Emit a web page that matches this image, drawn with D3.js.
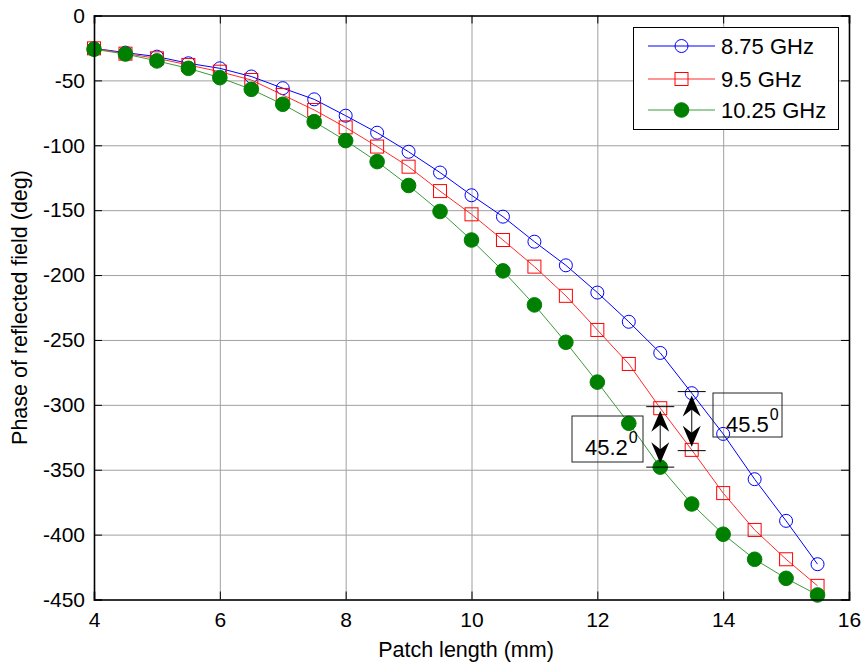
<!DOCTYPE html>
<html>
<head>
<meta charset="utf-8">
<script src="https://cdn.jsdelivr.net/npm/d3@7/dist/d3.min.js"></script>
<style>
  html, body { margin: 0; padding: 0; background: #fff; }
  svg { display: block; font-family: Arial, "Liberation Sans", Helvetica, sans-serif; }
</style>
</head>
<body>
<svg id="chart" width="865" height="665"></svg>
<script>
// ---- data ----
const patchLength = [4, 4.5, 5, 5.5, 6, 6.5, 7, 7.5, 8, 8.5, 9, 9.5, 10, 10.5, 11, 11.5, 12, 12.5, 13, 13.5, 14, 14.5, 15, 15.5];
const phase875 = [-25.3, -28.6, -31.7, -36.8, -40.7, -47, -56, -64.6, -77.2, -90.3, -105, -121, -138.5, -155, -174.3, -192.5, -213.5, -236, -260, -291, -322.4, -357.3, -389.4, -422.8];
const phase95 = [-25.3, -29.4, -33, -38.1, -43.3, -49.7, -61.2, -72.8, -86.2, -101, -116.5, -135.3, -153.2, -173, -193.5, -216, -242.3, -268.5, -302.6, -334.7, -368, -396.4, -419, -439.5];
const phase1025 = [-26, -29.7, -35, -40.7, -47.9, -56.9, -68.4, -81.8, -96.4, -112.6, -131, -151, -173, -196.8, -223, -251.8, -282.5, -314.2, -348, -376.4, -399.7, -419, -433.7, -446.5];
const seriesNames = ["8.75 GHz", "9.5 GHz", "10.25 GHz"];
const xTicks = [4, 6, 8, 10, 12, 14, 16];
const yTicks = [0, -50, -100, -150, -200, -250, -300, -350, -400, -450];
const xLabel = "Patch length (mm)";
const yLabel = "Phase of reflected field (deg)";
// annotations: phase differences
const diffArrows = [
  { x: 13, yTop: -301.4, yBottom: -348, label: "45.2" },
  { x: 13.5, yTop: -289.8, yBottom: -335.3, label: "45.5" }
];

// ---- layout ----
const svg = d3.select("#chart");
const L = 94, R = 849, T = 15.5, B = 599.5;
const x = d3.scaleLinear().domain([4, 16]).range([L, R]);
const y = d3.scaleLinear().domain([0, -450]).range([T, B]);
const FS = 21;

const series = [
  { name: seriesNames[0], values: phase875, line: "#0000ff", marker: "circle-open", mcolor: "#0000ff" },
  { name: seriesNames[1], values: phase95, line: "#ff2a2a", marker: "square-open", mcolor: "#ff0000" },
  { name: seriesNames[2], values: phase1025, line: "#3c9a3c", marker: "circle-filled", mcolor: "#008000" }
];

// grid
const grid = svg.append("g");
grid.append("g").attr("transform", `translate(0,${B})`)
  .call(d3.axisBottom(x).tickValues(xTicks).tickSize(-(B - T)).tickFormat(""))
  .call(g => g.select(".domain").remove())
  .call(g => g.selectAll("line").attr("stroke", "#a0a0a0").attr("stroke-width", 1));
grid.append("g").attr("transform", `translate(${L},0)`)
  .call(d3.axisLeft(y).tickValues(yTicks).tickSize(-(R - L)).tickFormat(""))
  .call(g => g.select(".domain").remove())
  .call(g => g.selectAll("line").attr("stroke", "#a0a0a0").attr("stroke-width", 1));

// series lines & markers
function drawMarker(g, type, cx, cy, color, size) {
  if (type === "circle-open") {
    g.append("circle").attr("cx", cx).attr("cy", cy).attr("r", size)
      .attr("fill", "none").attr("stroke", color).attr("stroke-width", 1);
  } else if (type === "square-open") {
    g.append("rect").attr("x", cx - size).attr("y", cy - size)
      .attr("width", 2 * size).attr("height", 2 * size)
      .attr("fill", "none").attr("stroke", color).attr("stroke-width", 1);
  } else {
    g.append("circle").attr("cx", cx).attr("cy", cy).attr("r", size)
      .attr("fill", color).attr("stroke", color).attr("stroke-width", 1);
  }
}
const lineGen = d3.line().x((d, i) => x(patchLength[i])).y(d => y(d));
series.forEach(s => {
  const g = svg.append("g");
  g.append("path").datum(s.values).attr("d", lineGen)
    .attr("fill", "none").attr("stroke", s.line).attr("stroke-width", 1);
  s.values.forEach((v, i) => {
    const sz = s.marker === "circle-filled" ? 7.3 : 6.5;
    drawMarker(g, s.marker, x(patchLength[i]), y(v), s.mcolor, sz);
  });
});

// axes (ticks inward)
const tl = 8;
const fmt = d => String(d);
const axB = svg.append("g").attr("transform", `translate(0,${B})`)
  .call(d3.axisBottom(x).tickValues(xTicks).tickSize(-tl).tickPadding(13).tickFormat(fmt));
const axT = svg.append("g").attr("transform", `translate(0,${T})`)
  .call(d3.axisTop(x).tickValues(xTicks).tickSize(-tl).tickFormat(""));
const axL = svg.append("g").attr("transform", `translate(${L},0)`)
  .call(d3.axisLeft(y).tickValues(yTicks).tickSize(-tl).tickPadding(9).tickFormat(fmt));
const axR = svg.append("g").attr("transform", `translate(${R},0)`)
  .call(d3.axisRight(y).tickValues(yTicks).tickSize(-tl).tickFormat(""));
[axB, axT, axL, axR].forEach(a => {
  a.select(".domain").attr("stroke", "#000").attr("stroke-width", 1.6);
  a.selectAll(".tick line").attr("stroke", "#000").attr("stroke-width", 1);
  a.selectAll(".tick text").attr("font-size", FS).attr("fill", "#000")
    .attr("font-family", "Arial, 'Liberation Sans', sans-serif");
});
[axB, axT].forEach(a => a.selectAll(".tick").filter(d => d === 4 || d === 16).select("line").remove());
[axL, axR].forEach(a => a.selectAll(".tick").filter(d => d === 0 || d === -450).select("line").remove());

// axis labels
svg.append("text").attr("x", 466).attr("y", 657).attr("text-anchor", "middle")
  .attr("font-size", FS + 0.5).text(xLabel);
svg.append("text").attr("transform", `translate(27,${(T + B) / 2}) rotate(-90)`)
  .attr("text-anchor", "middle").attr("font-size", FS + 0.5).text(yLabel);

// difference annotations
const ann = svg.append("g");
diffArrows.forEach(a => {
  const cx = x(a.x), yt = y(a.yTop), yb = y(a.yBottom);
  const half = 14;
  ann.append("line").attr("x1", cx - half).attr("x2", cx + half).attr("y1", yt).attr("y2", yt)
    .attr("stroke", "#000").attr("stroke-width", 1);
  ann.append("line").attr("x1", cx - half).attr("x2", cx + half).attr("y1", yb).attr("y2", yb)
    .attr("stroke", "#000").attr("stroke-width", 1);
  const tipT = yt + 4, tipB = yb - 4;
  ann.append("line").attr("x1", cx).attr("x2", cx).attr("y1", tipT + 10).attr("y2", tipB - 10)
    .attr("stroke", "#333").attr("stroke-width", 1.2);
  const hw = 9, hl = 21, notch = 14;
  ann.append("path").attr("d",
    `M${cx},${tipT} L${cx + hw},${tipT + hl} L${cx},${tipT + notch} L${cx - hw},${tipT + hl} Z`)
    .attr("fill", "#000");
  ann.append("path").attr("d",
    `M${cx},${tipB} L${cx + hw},${tipB - hl} L${cx},${tipB - notch} L${cx - hw},${tipB - hl} Z`)
    .attr("fill", "#000");
});
// label boxes
const boxes = [
  { label: diffArrows[0].label, bx: 572, by: 416, bw: 71, bh: 46 },
  { label: diffArrows[1].label, bx: 713, by: 393, bw: 69, bh: 44 }
];
boxes.forEach(b => {
  ann.append("rect").attr("x", b.bx).attr("y", b.by).attr("width", b.bw).attr("height", b.bh)
    .attr("fill", "none").attr("stroke", "#222").attr("stroke-width", 1);
  const t = ann.append("text").attr("x", b.bx + 13).attr("y", b.by + 39).attr("font-size", 22).text(b.label);
  const w = t.node().getComputedTextLength();
  ann.append("text").attr("x", b.bx + 13 + w + 1).attr("y", b.by + 27).attr("font-size", 16).text("0");
});

// legend
const lg = svg.append("g");
lg.append("rect").attr("x", 633.5).attr("y", 27.5).attr("width", 205).attr("height", 102)
  .attr("fill", "#fff").attr("stroke", "#000").attr("stroke-width", 1);
const rowsY = [46, 79, 110];
series.forEach((s, i) => {
  const ry = rowsY[i];
  lg.append("line").attr("x1", 648).attr("x2", 715).attr("y1", ry).attr("y2", ry)
    .attr("stroke", s.line).attr("stroke-width", 1);
  const sz = s.marker === "circle-filled" ? 7.3 : 6.5;
  drawMarker(lg, s.marker, 681.5, ry, s.mcolor, sz);
  lg.append("text").attr("x", 721).attr("y", ry + 7.5).attr("font-size", 22).text(s.name);
});
</script>
</body>
</html>
